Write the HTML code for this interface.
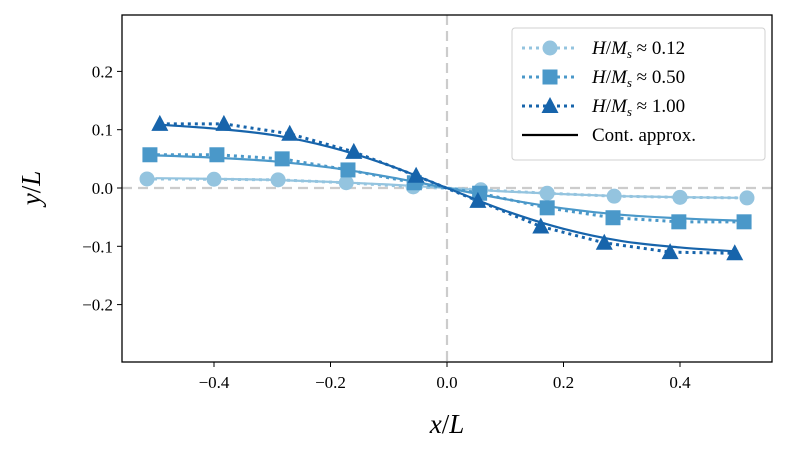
<!DOCTYPE html>
<html><head><meta charset="utf-8"><style>
body{margin:0;background:#fff}
svg{display:block;font-family:"Liberation Serif","DejaVu Serif",serif}
</style></head><body>
<svg id="chart" width="788" height="457" viewBox="0 0 788 457"></svg>
<script>
const seriesNames=["H/Ms ≈ 0.12","H/Ms ≈ 0.50","H/Ms ≈ 1.00"];
const circX=[-0.515,-0.40,-0.29,-0.173,-0.058,0.058,0.172,0.287,0.40,0.515];
const circY=[0.0155,0.015,0.014,0.009,0.002,-0.003,-0.009,-0.014,-0.016,-0.017];
const sqX=[-0.51,-0.395,-0.283,-0.17,-0.056,0.056,0.172,0.285,0.398,0.51];
const sqY=[0.057,0.057,0.05,0.031,0.009,-0.009,-0.034,-0.051,-0.058,-0.058];
const triX=[-0.493,-0.383,-0.27,-0.16,-0.053,0.053,0.161,0.27,0.383,0.494];
const triY=[0.11,0.11,0.093,0.062,0.021,-0.022,-0.066,-0.094,-0.11,-0.112];
const curveX=[-0.5,-0.4,-0.3,-0.2,-0.1,0,0.1,0.2,0.3,0.4,0.5];
const curveLow=[0.0168,0.0157,0.014,0.0105,0.006,0,-0.006,-0.0105,-0.014,-0.0157,-0.0168];
const curveMid=[0.056,0.052,0.046,0.035,0.019,0,-0.019,-0.035,-0.046,-0.052,-0.056];
const curveHigh=[0.109,0.102,0.091,0.070,0.039,0,-0.039,-0.070,-0.091,-0.102,-0.109];
const xTicks=[-0.4,-0.2,0,0.2,0.4];
const yTicks=[-0.2,-0.1,0,0.1,0.2];
const colors=["#94c4df","#4a98c9","#1764ab"];

const NS="http://www.w3.org/2000/svg";
const svg=document.getElementById('chart');
const L=122,R=772,T=15,B=362;
const sx=v=>447+v*582.5;
const sy=v=>188-v*583;
function mk(tag,attrs,parent){const e=document.createElementNS(NS,tag);for(const k in attrs)e.setAttribute(k,attrs[k]);(parent||svg).appendChild(e);return e;}
function fmt(v){const s=Math.abs(v).toFixed(1);return (v<0?"\u2212":"")+s;}

let g=mk('line',{x1:447,x2:447,y1:T,y2:B,stroke:'#cccccc','stroke-width':2.2,'stroke-dasharray':'10,6'});


g=mk('line',{x1:L,x2:R,y1:sy(0),y2:sy(0),stroke:'#cccccc','stroke-width':2.2,'stroke-dasharray':'10,6'});



xTicks.forEach(v=>{
 const x=sx(v);
 const t=mk('line',{x1:x,x2:x,y1:B,y2:B+5,stroke:'#000','stroke-width':1});
 
 
 const l=mk('text',{x:x,y:B+26,'text-anchor':'middle','font-size':17});
 l.textContent=fmt(v);
 
 
});
yTicks.forEach(v=>{
 const y=sy(v);
 const t=mk('line',{x1:L-5,x2:L,y1:y,y2:y,stroke:'#000','stroke-width':1});
 
 
 const l=mk('text',{x:L-9,y:y+6,'text-anchor':'end','font-size':17});
 l.textContent=fmt(v);
 
 
});

function smoothPath(xs,ys){
 const p=xs.map((x,i)=>[sx(x),sy(ys[i])]);
 let d=`M${p[0][0]},${p[0][1]}`;
 for(let i=0;i<p.length-1;i++){
  const p0=p[i-1]||p[i],p1=p[i],p2=p[i+1],p3=p[i+2]||p2;
  d+=` C${p1[0]+(p2[0]-p0[0])/6},${p1[1]+(p2[1]-p0[1])/6} ${p2[0]-(p3[0]-p1[0])/6},${p2[1]-(p3[1]-p1[1])/6} ${p2[0]},${p2[1]}`;
 }
 return d;
}
function linePath(xs,ys){return xs.map((x,i)=>(i?'L':'M')+sx(x)+','+sy(ys[i])).join(' ');}

const curves=[curveLow,curveMid,curveHigh];
const pxs=[circX,sqX,triX], pys=[circY,sqY,triY];
const marks=['circle','square','triangle'];
for(let s=0;s<3;s++){
 const c=mk('path',{d:smoothPath(curveX,curves[s]),fill:'none',stroke:colors[s],'stroke-width':2.2});
 
 
 const dl=mk('path',{d:linePath(pxs[s],pys[s]),fill:'none',stroke:colors[s],'stroke-width':3,'stroke-dasharray':'3,4'});
 
 
 pxs[s].forEach((x,i)=>{
  const X=sx(x),Y=sy(pys[s][i]);
  let m;
  if(s===0) m=mk('circle',{cx:X,cy:Y,r:7.5,fill:colors[s]});
  else if(s===1) m=mk('rect',{x:X-7.5,y:Y-7.5,width:15,height:15,fill:colors[s]});
  else m=mk('polygon',{points:`${X},${Y-9} ${X+8.5},${Y+7} ${X-8.5},${Y+7}`,fill:colors[s]});
  
  
 });
}

g=mk('rect',{x:L,y:T,width:R-L,height:B-T,fill:'none',stroke:'#000','stroke-width':1.3});



const lg=mk('g',{});


mk('rect',{x:512,y:28,width:253,height:132,rx:3,fill:'#fff',stroke:'#d0d0d0','stroke-width':1},lg);
const vals=["0.12","0.50","1.00"];
for(let s=0;s<4;s++){
 const y=48+s*29;
 const e=mk('g',{},lg);
 
 
 if(s<3){
  mk('line',{x1:522,x2:578,y1:y,y2:y,stroke:colors[s],'stroke-width':3,'stroke-dasharray':'3,4'},e);
  if(s===0) mk('circle',{cx:550,cy:y,r:7.5,fill:colors[s]},e);
  else if(s===1) mk('rect',{x:542.5,y:y-7.5,width:15,height:15,fill:colors[s]},e);
  else mk('polygon',{points:`550,${y-9} 558.5,${y+7} 541.5,${y+7}`,fill:colors[s]},e);
  const t=mk('text',{x:592,y:y+6,'font-size':19},e);
  t.innerHTML=`<tspan font-style="italic">H</tspan>/<tspan font-style="italic">M</tspan><tspan font-style="italic" font-size="13" dy="4">s</tspan><tspan dy="-4"> ≈ ${vals[s]}</tspan>`;
 } else {
  mk('line',{x1:522,x2:578,y1:y,y2:y,stroke:'#000','stroke-width':2.2},e);
  const t=mk('text',{x:592,y:y+6,'font-size':19},e);
  t.textContent="Cont. approx.";
 }
}

g=mk('text',{x:447,y:433,'text-anchor':'middle','font-size':27,'font-style':'italic'});
g.innerHTML='x<tspan font-style="normal">/</tspan>L';


g=mk('text',{x:0,y:0,'text-anchor':'middle','font-size':27,'font-style':'italic',transform:'translate(40,188) rotate(-90)'});
g.innerHTML='y<tspan font-style="normal">/</tspan>L';


</script>
</body></html>
